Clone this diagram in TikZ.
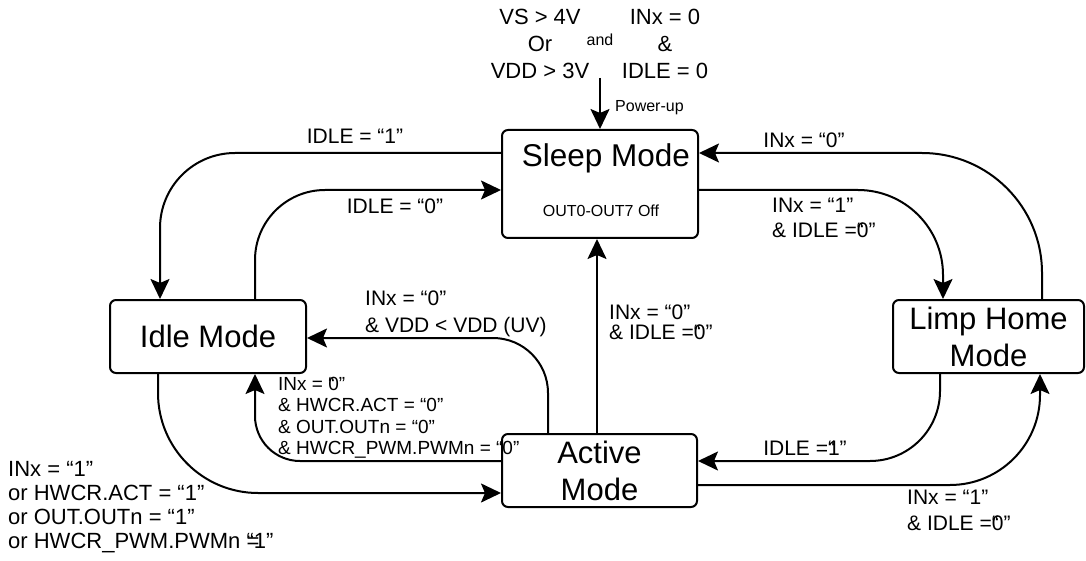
\documentclass[tikz,border=0pt]{standalone}
\usepackage{fontspec}
\setmainfont{Liberation Sans}
\usetikzlibrary{arrows.meta}
\newcommand\fsz[2]{\fontsize{#1}{#2}\selectfont}
\tikzset{
  mode/.style={draw, line width=2pt, rounded corners=6pt, inner sep=0pt, align=center, font=\fsz{31}{37}},
  conn/.style={line width=2pt, -{Stealth[length=20pt,width=19pt,inset=4pt]}},
  lbl/.style={inner sep=0pt, font=\fsz{21}{25}},
  lbll/.style={lbl, align=left, anchor=west},
  lblc/.style={lbl, align=center},
  small/.style={inner sep=0pt, font=\fsz{16}{19}}
}
\begin{document}
\begin{tikzpicture}[x=1pt,y=-1pt]
\useasboundingbox (0,0) rectangle (1086,561);
% states
\node[mode, minimum width=196pt, minimum height=108pt] (sleep) at (600,184) {};
\node[inner sep=0pt, font=\fsz{31.5}{37}] (sleept) at (606,158) {Sleep Mode};
\node[small] (sleepsub) at (601,211) {OUT0-OUT7 Off};
\node[mode, minimum width=196pt, minimum height=73pt] (idle) at (208,336.5) {Idle Mode};
\node[mode, minimum width=195pt, minimum height=73pt] (active) at (599.5,470.5) {Active\\Mode};
\node[mode, minimum width=191pt, minimum height=73pt] (limp) at (988.5,336.5) {Limp Home\\Mode};
% power-up
\node[lblc, font=\fsz{22}{27}] (vs) at (540,44) {VS > 4V\\Or\\VDD > 3V};
\node[small] (and) at (600,40) {and};
\node[lblc, font=\fsz{22}{27}] (inx) at (665,44) {INx = 0\\\&\\IDLE = 0};
\coordinate (pu) at (600,78);
\draw[conn] (pu) -- (sleep.north);
\node[small, anchor=west] (puL) at (615,108) {Power-up};
% connectors
\draw[conn, rounded corners=75pt] (sleep.west |- 0,153) -| (idle.north -| 160,0);
\draw[conn, rounded corners=70pt] (idle.north -| 255,0) |- (sleep.west |- 0,190);
\draw[conn, rounded corners=85pt] (sleep.east |- 0,190) -| (limp.north -| 943,0);
\draw[conn, rounded corners=120pt] (limp.north -| 1042,0) |- (sleep.east |- 0,153);
\draw[conn] (active.north -| 597,0) -- (sleep.south -| 597,0);
\draw[conn, rounded corners=55pt] (active.north -| 548,0) |- (idle.east |- 0,338);
\draw[conn, rounded corners=45pt] (active.west |- 0,461) -| (idle.south -| 255,0);
\draw[conn, rounded corners=100pt] (idle.south -| 158,0) |- (active.west |- 0,493);
\draw[conn, rounded corners=70pt] (limp.south -| 940,0) |- (active.east |- 0,461);
\draw[conn, rounded corners=90pt] (active.east |- 0,485) -| (limp.south -| 1040,0);
% labels
\node[lbl] (l1) at (355,136) {IDLE = “1”};
\node[lbl] (l2) at (395,206) {IDLE = “0”};
\node[lbl] (l3) at (804,140) {INx = “0”};
\node[lbll] (l4) at (772,218) {INx = “1”\\\& IDLE =\rlap{“}0”};
\node[lbll, font=\fsz{21}{20}] (l5) at (609,322.5) {INx = “0”\\\& IDLE =\rlap{“}0”};
\node[lbll, font=\fsz{21}{26.5}] (l6) at (365,314) {INx = “0”\\\& VDD < VDD (UV)};
\node[lbll, font=\fsz{19}{21.5}] (l7) at (278,418) {INx = \rlap{“}0”\\\& HWCR.ACT = “0”\\\& OUT.OUTn = “0”\\\& HWCR\_PWM.PWMn = “0”};
\node[lbll, font=\fsz{22}{24}] (l8) at (8,507) {INx = “1”\\or HWCR.ACT = “1”\\or OUT.OUTn = “1”\\or HWCR\_PWM.PWMn \rlap{=}“1”};
\node[lbl] (l9) at (805,448) {IDLE =\rlap{“}1”};
\node[lbll, font=\fsz{21}{26}] (l10) at (907,510) {INx = “1”\\\& IDLE =\rlap{“}0”};
\end{tikzpicture}
\end{document}
